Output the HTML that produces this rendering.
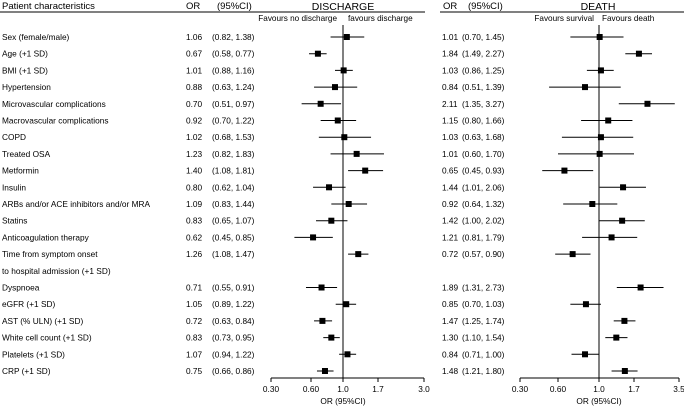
<!DOCTYPE html>
<html><head><meta charset="utf-8"><style>
html,body{margin:0;padding:0;background:#fff;}
svg{display:block;font-family:"Liberation Sans",Arial,sans-serif;}
</style></head><body>
<svg id="c" width="684" height="408" viewBox="0 0 684 408" xmlns="http://www.w3.org/2000/svg"></svg>
<script>
const labels=["Sex (female/male)","Age (+1 SD)","BMI (+1 SD)","Hypertension","Microvascular complications","Macrovascular complications","COPD","Treated OSA","Metformin","Insulin","ARBs and/or ACE inhibitors and/or MRA","Statins","Anticoagulation therapy","Time from symptom onset","to hospital admission (+1 SD)","Dyspnoea","eGFR (+1 SD)","AST (% ULN) (+1 SD)","White cell count (+1 SD)","Platelets (+1 SD)","CRP (+1 SD)"];
const disOR=[1.06,0.67,1.01,0.88,0.70,0.92,1.02,1.23,1.40,0.80,1.09,0.83,0.62,1.26,null,0.71,1.05,0.72,0.83,1.07,0.75];
const disLo=[0.82,0.58,0.88,0.63,0.51,0.70,0.68,0.82,1.08,0.62,0.83,0.65,0.45,1.08,null,0.55,0.89,0.63,0.73,0.94,0.66];
const disHi=[1.38,0.77,1.16,1.24,0.97,1.22,1.53,1.83,1.81,1.04,1.44,1.07,0.85,1.47,null,0.91,1.22,0.84,0.95,1.22,0.86];
const deaOR=[1.01,1.84,1.03,0.84,2.11,1.15,1.03,1.01,0.65,1.44,0.92,1.42,1.21,0.72,null,1.89,0.85,1.47,1.30,0.84,1.48];
const deaLo=[0.70,1.49,0.86,0.51,1.35,0.80,0.63,0.60,0.45,1.01,0.64,1.00,0.81,0.57,null,1.31,0.70,1.25,1.10,0.71,1.21];
const deaHi=[1.45,2.27,1.25,1.39,3.27,1.66,1.68,1.70,0.93,2.06,1.32,2.02,1.79,0.90,null,2.73,1.03,1.74,1.54,1.00,1.80];
const disTicks=["0.30","0.60","1.0","1.7","3.0"];
const deaTicks=["0.30","0.60","1.0","1.7","3.5"];
const disTickX=[271,311,343,378,424];
const deaTickX=[520,558,599,634,679];
const NS="http://www.w3.org/2000/svg";
const svg=document.getElementById('c');
function mk(tag,attrs,txt){const e=document.createElementNS(NS,tag);for(const k in attrs)e.setAttribute(k,attrs[k]);if(txt!=null)e.textContent=txt;svg.appendChild(e);return e;}
function scale(ticks,px){const lv=ticks.map(t=>Math.log(parseFloat(t)));return v=>{const l=Math.log(v);let i=0;while(i<lv.length-2&&l>lv[i+1])i++;return px[i]+(l-lv[i])/(lv[i+1]-lv[i])*(px[i+1]-px[i]);};}
const xd=scale(disTicks,disTickX), xe=scale(deaTicks,deaTickX);
const rowY=i=>37+i*16.7;
const fs=8.3;
let t;
t=mk('text',{x:2,y:9,'font-size':9.5});t.textContent="Patient characteristics";


[[186,"OR"],[217,"(95%CI)"],[443,"OR"],[468,"(95%CI)"]].forEach(a=>{t=mk('text',{x:a[0],y:9,'font-size':9.5},a[1]);

});
t=mk('text',{x:343,y:10,'font-size':10.5,'text-anchor':'middle'},"DISCHARGE");


t=mk('text',{x:598,y:10,'font-size':10.5,'text-anchor':'middle'},"DEATH");


t=mk('line',{x1:0,x2:425,y1:12,y2:12,stroke:'#000','stroke-width':1});


t=mk('line',{x1:440,x2:684,y1:12,y2:12,stroke:'#000','stroke-width':1});


[[337,'end',"Favours no discharge"],[348,'start',"favours discharge"],[594,'end',"Favours survival"],[602,'start',"Favours death"]].forEach(a=>{t=mk('text',{x:a[0],y:21,'font-size':8.2,'text-anchor':a[1]},a[2]);

});
function f(v){return v.toFixed(2);}
labels.forEach((lab,i)=>{const y=rowY(i);
t=mk('text',{x:2,y:y+3,'font-size':fs},lab);


if(disOR[i]==null)return;
t=mk('text',{x:186,y:y+3,'font-size':fs},f(disOR[i]));


t=mk('text',{x:212,y:y+3,'font-size':fs},"("+f(disLo[i])+", "+f(disHi[i])+")");


t=mk('text',{x:442,y:y+3,'font-size':fs},f(deaOR[i]));


t=mk('text',{x:462,y:y+3,'font-size':fs},"("+f(deaLo[i])+", "+f(deaHi[i])+")");


});
function panel(x,ticks,tx,OR,LO,HI,nm){
 let e=mk('line',{x1:x(1),x2:x(1),y1:25,y2:378,stroke:'#000','stroke-width':1});
 
 
 e=mk('line',{x1:tx[0],x2:tx[tx.length-1],y1:378,y2:378,stroke:'#000','stroke-width':1});
 
 
 ticks.forEach((tk,j)=>{const px=x(parseFloat(tk));
  e=mk('line',{x1:px,x2:px,y1:378,y2:382,stroke:'#000','stroke-width':1});
  
  
  e=mk('text',{x:px,y:392,'font-size':fs,'text-anchor':'middle'},tk);
  
  });
 e=mk('text',{x:x(1),y:404,'font-size':fs,'text-anchor':'middle'},"OR (95%CI)");
 
 
 OR.forEach((v,i)=>{if(v==null)return;const y=rowY(i);
  e=mk('line',{x1:x(LO[i]),x2:x(HI[i]),y1:y,y2:y,stroke:'#000','stroke-width':1});
  
  
  e=mk('rect',{x:x(v)-3,y:y-3,width:6,height:6,fill:'#000'});
  
  });
}
panel(xd,disTicks,disTickX,disOR,disLo,disHi,'discharge');
panel(xe,deaTicks,deaTickX,deaOR,deaLo,deaHi,'death');
</script>
</body></html>
